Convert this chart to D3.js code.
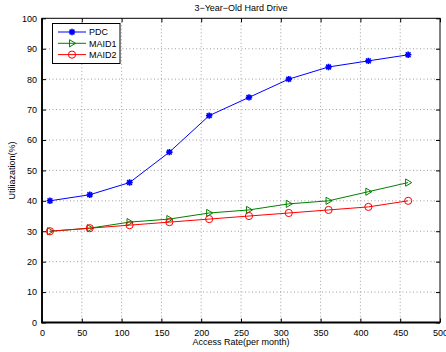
<!DOCTYPE html>
<html>
<head>
<meta charset="utf-8">
<script src="https://cdn.jsdelivr.net/npm/d3@7"></script>
<style>
  html, body { margin: 0; padding: 0; background: #fff; }
  svg { display: block; font-family: "Liberation Sans", Arial, sans-serif; }
</style>
</head>
<body>
<svg id="chart" width="446" height="352"></svg>
<script>
// Access rate (per month) sampled for each drive policy
const accessRate = [10, 60, 110, 160, 210, 260, 310, 360, 410, 460];
const pdc   = [40, 42, 46, 56, 68, 74, 80, 84, 86, 88];
const maid1 = [30, 31, 33, 34, 36, 37, 39, 40, 43, 46];
const maid2 = [30, 31, 32, 33, 34, 35, 36, 37, 38, 40];

const xTicks = [0, 50, 100, 150, 200, 250, 300, 350, 400, 450, 500];
const yTicks = [0, 10, 20, 30, 40, 50, 60, 70, 80, 90, 100];

const seriesNames = ["PDC", "MAID1", "MAID2"];
const seriesValues = [pdc, maid1, maid2];
const seriesColors = ["#0000ff", "#008000", "#ff0000"];
const seriesMarkers = ["star", "triangle", "circle"];

(function () {
const svg = d3.select("#chart");
const plotL = 42, plotR = 440, plotT = 18.3, plotB = 322.5;

const x = d3.scaleLinear().domain([0, 500]).range([plotL, plotR]);
const y = d3.scaleLinear().domain([0, 100]).range([plotB, plotT]);

// dotted grid
const grid = svg.append("g");
grid.selectAll(".gx").data(xTicks.slice(1, -1)).enter().append("line")
  .attr("x1", d => x(d)).attr("x2", d => x(d))
  .attr("y1", plotT).attr("y2", plotB)
  .attr("stroke", "#888").attr("stroke-width", 0.8)
  .attr("stroke-dasharray", "1,2.5");
grid.selectAll(".gy").data(yTicks.slice(1, -1)).enter().append("line")
  .attr("x1", plotL).attr("x2", plotR)
  .attr("y1", d => y(d)).attr("y2", d => y(d))
  .attr("stroke", "#888").attr("stroke-width", 0.8)
  .attr("stroke-dasharray", "1,2.5");

// axes with inward ticks
const axisStyle = g => {
  g.selectAll("text").attr("font-size", 9).attr("fill", "#000")
    .attr("font-family", "Liberation Sans, Arial, sans-serif");
  g.selectAll(".tick line").attr("stroke", "#000");
  g.select(".domain").remove();
};

svg.append("g").attr("transform", `translate(0,${plotB})`)
  .call(d3.axisBottom(x).tickValues(xTicks).tickSize(-4).tickPadding(7).tickFormat(d3.format("d")))
  .call(axisStyle);
svg.append("g").attr("transform", `translate(0,${plotT})`)
  .call(d3.axisTop(x).tickValues(xTicks).tickSize(-4).tickFormat(""))
  .call(axisStyle);
svg.append("g").attr("transform", `translate(${plotL},0)`)
  .call(d3.axisLeft(y).tickValues(yTicks).tickSize(-4).tickPadding(5).tickFormat(d3.format("d")))
  .call(axisStyle);
svg.append("g").attr("transform", `translate(${plotR},0)`)
  .call(d3.axisRight(y).tickValues(yTicks).tickSize(-4).tickFormat(""))
  .call(axisStyle);

// frame
svg.append("rect").attr("x", plotL).attr("y", plotT)
  .attr("width", plotR - plotL).attr("height", plotB - plotT)
  .attr("fill", "none").attr("stroke", "#000").attr("stroke-width", 1);
svg.append("path")
  .attr("d", `M${plotL},${plotT} V${plotB} H${plotR}`)
  .attr("fill", "none").attr("stroke", "#000").attr("stroke-width", 1.8);

// marker drawing
function drawMarker(g, type, cx, cy, color) {
  if (type === "star") {
    const s = 3.2;
    const p = `M${cx - s},${cy} H${cx + s} M${cx},${cy - s} V${cy + s}` +
      ` M${cx - s * 0.75},${cy - s * 0.75} L${cx + s * 0.75},${cy + s * 0.75}` +
      ` M${cx - s * 0.75},${cy + s * 0.75} L${cx + s * 0.75},${cy - s * 0.75}`;
    g.append("path").attr("d", p).attr("stroke", color).attr("stroke-width", 1.6).attr("fill", "none");
  } else if (type === "triangle") {
    const s = 3.6;
    g.append("path")
      .attr("d", `M${cx - s * 0.7},${cy - s} L${cx + s},${cy} L${cx - s * 0.7},${cy + s} Z`)
      .attr("stroke", color).attr("stroke-width", 1).attr("fill", "none");
  } else {
    g.append("circle").attr("cx", cx).attr("cy", cy).attr("r", 3.6)
      .attr("stroke", color).attr("stroke-width", 1).attr("fill", "none");
  }
}

const line = d3.line().x((d, i) => x(accessRate[i])).y(d => y(d));

seriesValues.forEach((vals, k) => {
  const g = svg.append("g");
  g.append("path").datum(vals).attr("d", line)
    .attr("fill", "none").attr("stroke", seriesColors[k]).attr("stroke-width", 1);
  vals.forEach((v, i) => drawMarker(g, seriesMarkers[k], x(accessRate[i]), y(v), seriesColors[k]));
});

// title and axis labels
svg.append("text").attr("x", (plotL + plotR) / 2).attr("y", 11)
  .attr("text-anchor", "middle").attr("font-size", 9).text("3\u2212Year\u2212Old Hard Drive");
svg.append("text").attr("x", (plotL + plotR) / 2).attr("y", 345)
  .attr("text-anchor", "middle").attr("font-size", 9).text("Access Rate(per month)");
svg.append("text").attr("transform", `translate(15,${(plotT + plotB) / 2}) rotate(-90)`)
  .attr("text-anchor", "middle").attr("font-size", 9).text("Utiliazation(%)");

// legend
const lg = svg.append("g");
lg.append("rect").attr("x", 52.5).attr("y", 23.5).attr("width", 67.5).attr("height", 40)
  .attr("fill", "#fff").attr("stroke", "#000").attr("stroke-width", 1);
seriesNames.forEach((name, k) => {
  const ly = 32 + k * 11.3;
  lg.append("line").attr("x1", 58).attr("x2", 86).attr("y1", ly).attr("y2", ly)
    .attr("stroke", seriesColors[k]).attr("stroke-width", 1);
  drawMarker(lg, seriesMarkers[k], 72, ly, seriesColors[k]);
  lg.append("text").attr("x", 89).attr("y", ly + 3.3).attr("font-size", 9).text(name);
});
})();
</script>
</body>
</html>
